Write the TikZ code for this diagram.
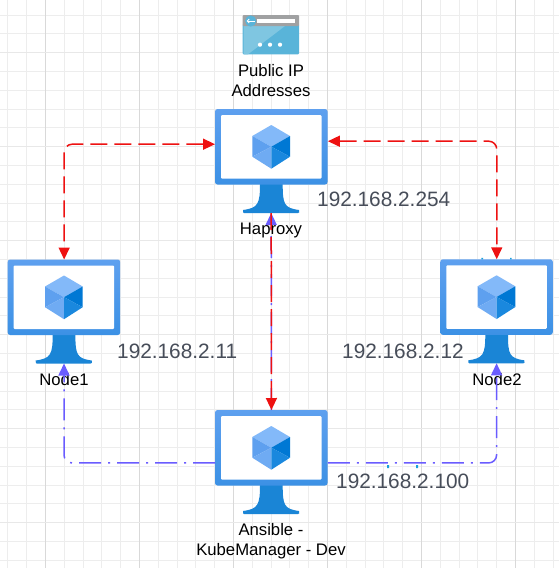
\documentclass[tikz,border=0pt]{standalone}
\usepackage{fontspec}
\setmainfont{Liberation Sans}
\usetikzlibrary{arrows.meta,calc}
\definecolor{framet}{HTML}{5EA0EF}
\definecolor{frameb}{HTML}{3C91E5}
\definecolor{standc}{HTML}{1A85D6}
\definecolor{cubetop}{HTML}{83B9F9}
\definecolor{cubeleft}{HTML}{5EA0EF}
\definecolor{cubeleftb}{HTML}{6FABF3}
\definecolor{cuberight}{HTML}{0078D4}
\definecolor{cuberightb}{HTML}{1A88DE}
\definecolor{redline}{HTML}{EE1111}
\definecolor{blueline}{HTML}{6A5CFF}
\definecolor{iplabel}{HTML}{474D59}
\definecolor{tickc}{HTML}{1AA0DC}
\definecolor{iconbar}{HTML}{A0A1A2}
\definecolor{iconbody}{HTML}{59B4D9}
\definecolor{iconlight}{HTML}{7FC6E1}
\tikzset{
  x=1pt,y=-1pt,
  monbox/.style={inner sep=0pt,minimum width=112.5pt,minimum height=75.5pt,anchor=north west},
  lbl/.style={inner sep=0pt,align=center,text=black,font=\fontsize{16.7pt}{19.6pt}\selectfont},
  iplbl/.style={inner sep=0pt,anchor=west,text=iplabel,font=\fontsize{20.8pt}{24pt}\selectfont},
  redarrow/.style={draw=redline,line width=1.5pt,rounded corners=8pt,dash pattern=on 17pt off 7pt,
    arrows={Triangle[length=12pt,width=11pt,fill=redline]-Triangle[length=12pt,width=11pt,fill=redline]}},
  reddown/.style={draw=redline,line width=1.5pt,dash pattern=on 17pt off 7pt,
    arrows={-Triangle[length=12pt,width=11pt,fill=redline]}},
  bluearrow/.style={draw=blueline,line width=1.5pt,rounded corners=8pt,dash pattern=on 22pt off 7pt on 2pt off 7pt,
    arrows={-Triangle[length=12pt,width=11pt,fill=blueline]}},
  tickmark/.style={fill=tickc,draw=none},
  pics/monitor/.style={code={
    \path[fill=standc] (45,75) .. controls (45,95) and (43,99) .. (28,101) .. controls (28,103) and (28,104) .. (29,104) -- (83,104) .. controls (84.5,104) and (84.5,103) .. (84,101) .. controls (69,99) and (67.7,95) .. (67.7,75) -- cycle;
    \path[top color=framet,bottom color=frameb,rounded corners=2.5pt] (0,0) rectangle (112.5,75.5);
    \path[fill=white,rounded corners=1pt] (6,6) rectangle (106.5,69.5);
    \path[fill=cubetop] (56.3,16) -- (75,27) -- (56.3,37.7) -- (37.3,27) -- cycle;
    \path[fill=cubeleft] (37.3,27) -- (56.3,37.7) -- (37.3,47.7) -- cycle;
    \path[fill=cubeleftb] (37.3,27) ++(0,20.7) -- (56.3,37.7) -- (56.3,59.7) -- cycle;
    \path[fill=cuberight] (75,27) -- (56.3,37.7) -- (75,47.7) -- cycle;
    \path[fill=cuberightb] (75,47.7) -- (56.3,37.7) -- (56.3,59.7) -- cycle;
  }}
}
\begin{document}
\begin{tikzpicture}
\useasboundingbox[fill=white] (0,0) rectangle (559,568);
\begin{scope}
\clip (0,0) rectangle (559,568);
\foreach \i in {-3,...,27}{
  \draw[line width=1pt,draw=black!7] ({45.5+18.8*\i},0) -- ({45.5+18.8*\i},568);
  \draw[line width=1pt,draw=black!7] (0,{52.6+18.8*\i}) -- (559,{52.6+18.8*\i});
}
\foreach \i in {0,...,5}{
  \draw[line width=1pt,draw=black!15] ({45.5+94*\i},0) -- ({45.5+94*\i},568);
  \draw[line width=1.3pt,draw=black!9] (0,{52.6+94*\i}) -- (559,{52.6+94*\i});
}
\end{scope}
% public IP icon
\path[fill=iconbody,rounded corners=1pt] (242.7,24) rectangle (299,54.3);
\path[fill=iconlight] (243.5,26) -- (285,26) -- (248,54.3) -- (243.5,54.3) -- cycle;
\path[fill=iconbar,rounded corners=1pt] (242.7,15) rectangle (299,26);
\path[fill=white] (256.7,19) rectangle (295.3,23);
\path[fill=iconbody] (250.7,21) circle (5.6);
\draw[white,line width=1pt,arrows={Straight Barb[length=2pt,width=4pt]-}] (246.5,21) -- (254.5,21);
\foreach \dx in {260,270,280}{\path[fill=white] (\dx,44.7) circle (2.1);}
% monitors
\node[monbox] (hap) at (215,109) {};
\node[monbox] (nodeone) at (7.7,259.5) {};
\node[monbox] (nodetwo) at (440.3,259.3) {};
\node[monbox] (ans) at (215,410) {};
\pic at (hap.north west) {monitor};
\pic at (nodeone.north west) {monitor};
\pic at (nodetwo.north west) {monitor};
\pic at (ans.north west) {monitor};
\coordinate (hapbase) at (271.2,213);
\coordinate (oneb) at (64,363.5);
\coordinate (twob) at (496.6,363.3);
% stray ticks
\path[tickmark] (481.3,257.8) rectangle (483,259.4) (510,257.8) rectangle (511.7,259.4);
\path[tickmark] (387,465) rectangle (389,468) (416,465) rectangle (418,468);
% labels
\node[lbl] (pub) at (271,80.5) {Public IP\\Addresses};
\node[lbl] (haplbl) at (271,230) {Haproxy};
\node[lbl] (onelbl) at (64,380) {Node1};
\node[lbl] (twolbl) at (497,380) {Node2};
\node[lbl] (anslbl) at (271,541) {Ansible -\\KubeManager - Dev};
\node[iplbl] (iphap) at (317,199.5) {192.168.2.254};
\node[iplbl] (ipone) at (117,351) {192.168.2.11};
\node[iplbl] (iptwo) at (342,351) {192.168.2.12};
\node[iplbl] (ipans) at (336,481.5) {192.168.2.100};
% connectors
\draw[bluearrow] (ans.north) -- (hapbase);
\draw[reddown] (hapbase) -- (ans.north);
\draw[redarrow] ([yshift=2.75pt]hap.west) -| (nodeone.north);
\draw[redarrow] ([yshift=5.75pt]hap.east) -| (nodetwo.north);
\draw[bluearrow] ([yshift=-15pt]ans.west) -| (oneb);
\draw[bluearrow] ([yshift=-15pt]ans.east) -| (twob);
\end{tikzpicture}
\end{document}
